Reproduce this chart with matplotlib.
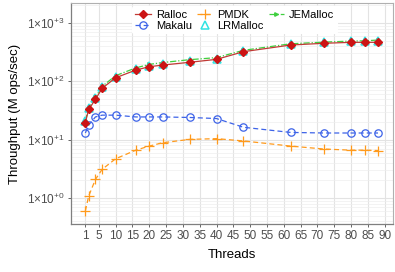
import matplotlib
matplotlib.use("Agg")
import matplotlib.pyplot as plt
from matplotlib.ticker import FixedLocator, LogLocator, NullFormatter

plt.rcParams['font.family'] = ['Liberation Sans', 'DejaVu Sans']
plt.rcParams['mathtext.fontset'] = 'custom'
plt.rcParams['mathtext.rm'] = 'Liberation Sans'
plt.rcParams['mathtext.it'] = 'Liberation Sans'

threads = [1, 2, 4, 6, 10, 16, 20, 24, 32, 40, 48, 62, 72, 80, 84, 88]
ralloc = [19.6, 33, 49, 76, 115, 156, 178, 190, 212, 238, 322, 419, 449, 466, 466, 466]
makalu = [13, 17.8, 24.5, 26.3, 26.3, 24.5, 24.5, 24.5, 24, 23, 16.3, 13.3, 13, 13, 13, 13]
pmdk = [0.6, 1.08, 2.08, 3.1, 4.7, 6.6, 7.76, 8.85, 10.1, 10.4, 9.5, 7.76, 6.9, 6.6, 6.6, 6.5]
lrmalloc = [20.5, 34.5, 51, 79, 119, 162, 184, 197, 222, 246, 335, 432, 465, 482, 486, 490]
jemalloc = [21, 35, 53, 82, 125, 170, 195, 210, 235, 255, 340, 440, 470, 490, 495, 510]

xticks = [1, 5, 10, 15, 20, 25, 30, 35, 40, 45, 50, 55, 60, 65, 70, 75, 80, 85, 90]
yticks = [1, 10, 100, 1000]
ytick_labels = [r'1$\times$10$^{+0}$', r'1$\times$10$^{+1}$', r'1$\times$10$^{+2}$', r'1$\times$10$^{+3}$']

fig = plt.figure(figsize=(3.95, 2.72), dpi=100)
ax = fig.add_axes([0.179, 0.176, 0.815, 0.813])

ax.plot(threads, makalu, color='#3d63e8', ls=(0, (4, 2.5)), lw=0.9, marker='o', ms=5.3,
        mfc='none', mew=0.9, label='Makalu', zorder=3)
ax.plot(threads, pmdk, color='#ff9a1c', ls=(0, (4, 2.5)), lw=0.9, marker='+', ms=7,
        mew=0.9, label='PMDK', zorder=3)
ax.plot(threads, jemalloc, color='#3fcf3f', ls=(0, (5, 1.5, 1, 1.5)), lw=0.9, marker='>', ms=2.5,
        label='JEMalloc', zorder=4)
ax.plot(threads, lrmalloc, color='#2fe3e3', ls='none', marker='^', ms=6,
        mfc='none', mew=1.1, label='LRMalloc', zorder=4)
ax.plot(threads, ralloc, color='#c03a35', ls='-', lw=0.9, marker='D', ms=4,
        mfc='#cc1414', mec='#cc1414', label='Ralloc', zorder=5)

ax.set_yscale('log')
ax.set_xlim(-3.35, 92.35)
ax.set_ylim(0.356, 2203)
ax.set_xticks(xticks)
ax.set_xticklabels([str(t) for t in xticks])
ax.yaxis.set_major_locator(FixedLocator(yticks))
ax.set_yticklabels(ytick_labels)
ax.yaxis.set_minor_locator(LogLocator(base=10, subs=[2, 3, 4, 5, 6, 7, 8, 9]))
ax.yaxis.set_minor_formatter(NullFormatter())
ax.tick_params(axis='y', which='minor', length=0)

ax.grid(True, which='major', color='#e3e3e3', lw=0.8)
ax.grid(True, which='minor', axis='y', color='#eeeeee', lw=0.5)
ax.set_axisbelow(True)

for s in ['top', 'right']:
    ax.spines[s].set_color('#b0b0b0')
    ax.spines[s].set_linewidth(0.8)
for s in ['left', 'bottom']:
    ax.spines[s].set_color('#7f7f7f')
    ax.spines[s].set_linewidth(0.9)

ax.tick_params(axis='both', which='major', labelsize=8.5, colors='#4d4d4d', length=2.5, width=0.6, pad=2)
ax.set_xlabel('Threads', fontsize=9.5, color='black', labelpad=5)
ax.set_ylabel('Throughput (M ops/sec)', fontsize=9.5, color='black', labelpad=4)

handles, labels = ax.get_legend_handles_labels()
order = ['Ralloc', 'Makalu', 'PMDK', 'LRMalloc', 'JEMalloc']
hmap = dict(zip(labels, handles))
leg = ax.legend([hmap[o] for o in order], order, ncol=3, loc='upper left',
                bbox_to_anchor=(0.19, 0.985), fontsize=8, frameon=True, framealpha=1,
                edgecolor='none', handlelength=1.4, handletextpad=0.45,
                columnspacing=0.45, labelspacing=0.1, borderpad=0.3, borderaxespad=0)
leg.set_zorder(10)

fig.savefig('out.png', dpi=100)
